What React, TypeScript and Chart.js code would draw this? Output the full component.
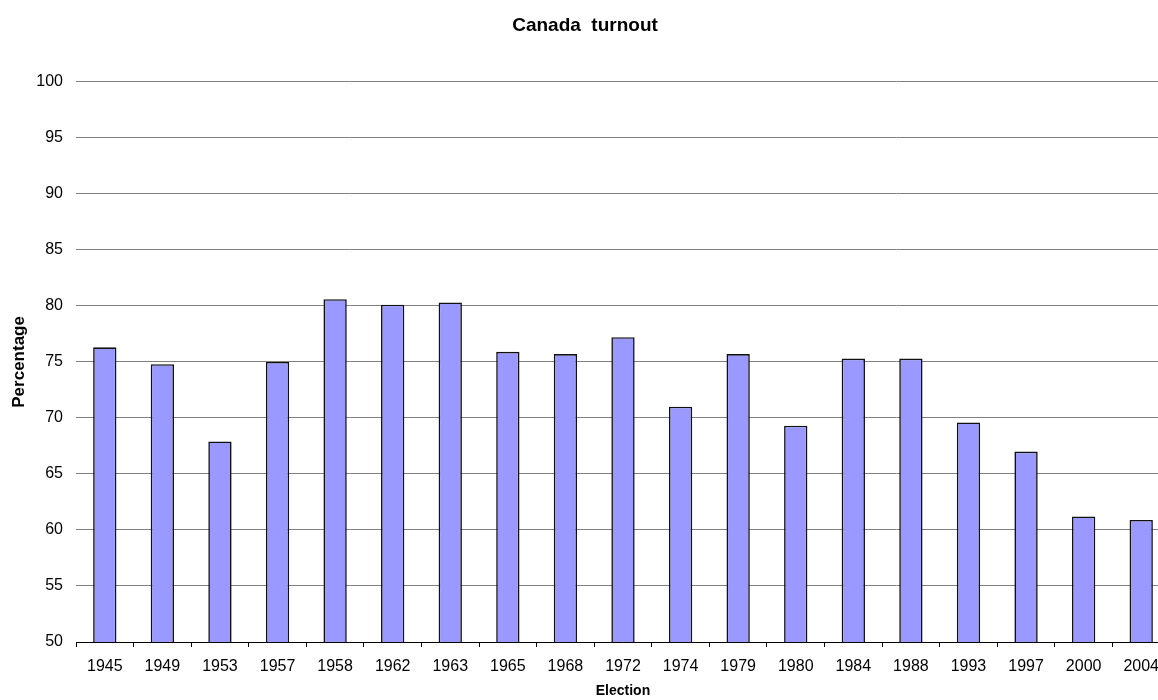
import React, { useEffect, useRef } from "react";
import { Chart, registerables } from "chart.js";

Chart.register(...registerables);

const elections: string[] = ["1945", "1949", "1953", "1957", "1958", "1962", "1963", "1965", "1968", "1972", "1974", "1979", "1980", "1984", "1988", "1993", "1997", "2000", "2004"];
const turnout: number[] = [76.3, 74.8, 67.9, 75.0, 80.6, 80.1, 80.3, 75.9, 75.7, 77.2, 71.0, 75.7, 69.3, 75.3, 75.3, 69.6, 67.0, 61.2, 60.9];
const yMin = 50;
const yMax = 100;
const yStep = 5;

const FONT = "'Liberation Sans', Arial, Helvetica, sans-serif";

export default function App() {
  const ref = useRef<HTMLCanvasElement | null>(null);

  useEffect(() => {
    if (!ref.current) return;
    const chart = new Chart(ref.current, {
      type: "bar",
      data: {
        labels: elections,
        datasets: [
          {
            label: "Turnout",
            data: turnout,
            backgroundColor: "#9999ff",
            borderColor: "#111111",
            borderWidth: 1.6,
            barPercentage: 0.405,
            categoryPercentage: 1,
          },
        ],
      },
      options: {
        responsive: false,
        animation: false,
        layout: { padding: 0 },
        plugins: {
          legend: { display: false },
          tooltip: { enabled: false },
          title: {
            display: true,
            text: "Canada  turnout",
            color: "#000",
            font: { family: FONT, size: 19, weight: "bold" },
            padding: { top: 14, bottom: 45 },
          },
        },
        scales: {
          x: {
            offset: true,
            grid: {
              display: true,
              drawOnChartArea: false,
              drawTicks: true,
              tickLength: 5,
              color: "#000",
              offset: true,
            },
            border: { display: true, color: "#000", width: 1 },
            ticks: {
              color: "#000",
              font: { family: FONT, size: 16 },
              padding: 10,
              maxRotation: 0,
              autoSkip: false,
            },
            title: {
              display: true,
              text: "Election",
              color: "#000",
              font: { family: FONT, size: 14, weight: "bold" },
              padding: { top: 0, bottom: 0 },
            },
            afterFit: (scale: any) => {
              scale.height = 58;
            },
          },
          y: {
            min: yMin,
            max: yMax,
            grid: {
              color: "#808080",
              drawTicks: false,
            },
            border: { display: false },
            ticks: {
              stepSize: yStep,
              color: "#000",
              font: { family: FONT, size: 16 },
              padding: 13,
            },
            title: {
              display: true,
              text: "Percentage",
              color: "#000",
              font: { family: FONT, size: 17, weight: "bold" },
              padding: { top: 9, bottom: 0 },
            },
            afterFit: (scale: any) => {
              scale.width = 76;
            },
          },
        },
      },
    });
    return () => chart.destroy();
  }, []);

  return (
    <div style={{ position: "fixed", left: 0, top: 0, width: 1158, height: 700, overflow: "hidden", background: "#fff" }}>
      <canvas ref={ref} width={1170} height={700} style={{ display: "block" }} />
    </div>
  );
}
